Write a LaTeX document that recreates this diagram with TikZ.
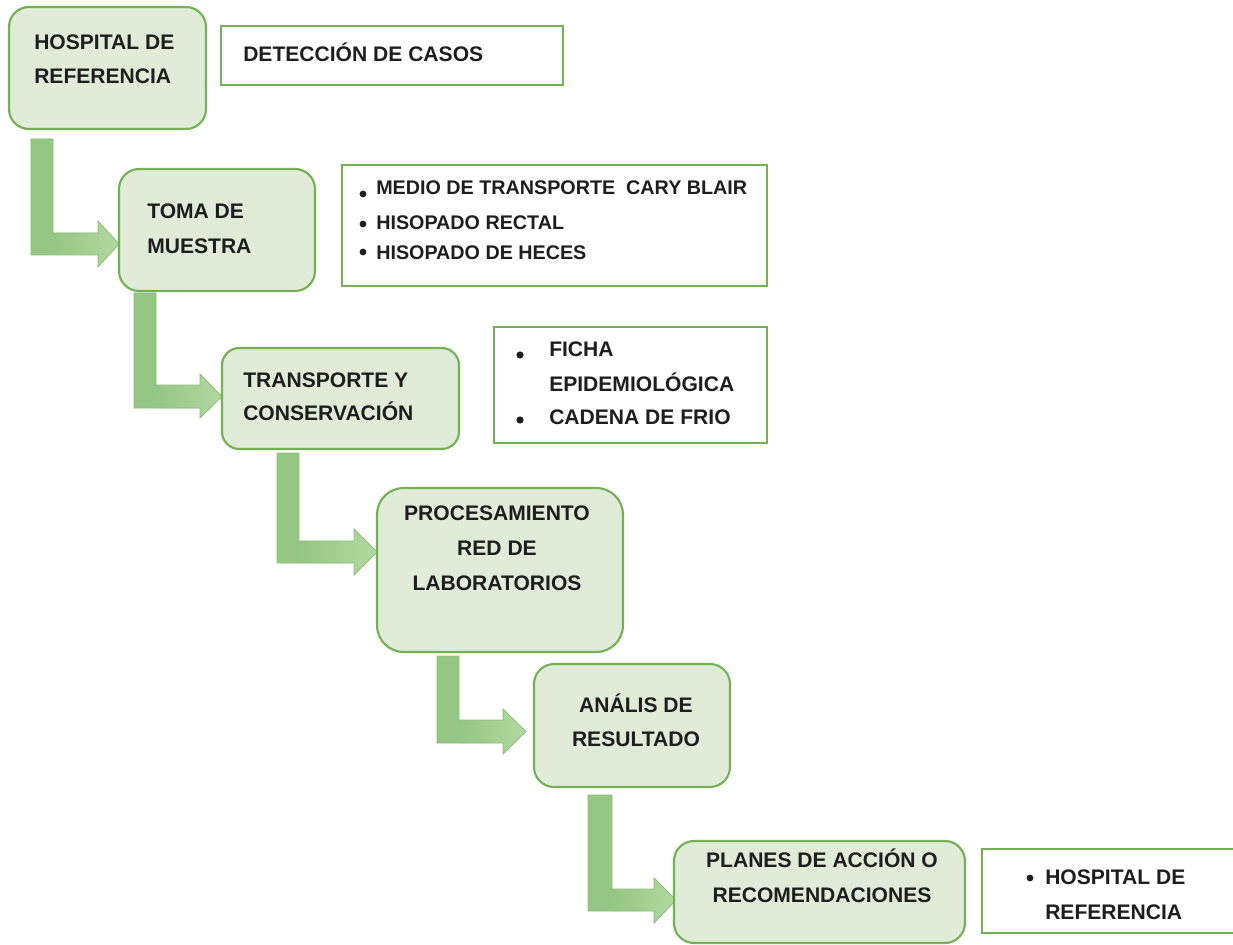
\documentclass[tikz,border=0pt]{standalone}
\usepackage{fontspec}
\setmainfont{Liberation Sans}
\definecolor{stagefill}{HTML}{E0ECD7}
\definecolor{stageline}{HTML}{74B155}
\definecolor{arrowfill}{HTML}{96C683}
\definecolor{arrowlight}{HTML}{B3D8A3}
\definecolor{arrowline}{HTML}{8BC076}
\definecolor{textc}{HTML}{1E1E1E}
\tikzset{
  stage/.style={draw=stageline, fill=stagefill, line width=1.6pt, inner sep=0pt},
  infobox/.style={draw=stageline, fill=white, line width=1.6pt, inner sep=0pt},
  lbl/.style={font=\fontsize{15.8}{18}\selectfont\bfseries, text=textc, inner sep=0pt},
  lbls/.style={font=\fontsize{14.8}{18}\selectfont\bfseries, text=textc, inner sep=0pt},
  dotb/.style={fill=textc},
  bendarrow/.style={draw=arrowline, line width=0.6pt, line join=miter}
}
\newcommand\bendarr[9]{%
 % #1 xl #2 xr #3 ytop #4 bar top #5 bar bottom #6 head base x #7 head top #8 tip x #9 head bottom
 \fill[arrowfill] (#1,#3) -- (#2,#3) -- (#2,#4) -- (#6,#4) -- (#6,#7) -- (#8,{(#4+#5)/2}) -- (#6,#9) -- (#6,#5) -- (#1,#5) -- cycle;
 \shade[left color=arrowfill, right color=arrowlight] (#2,#4) -- (#6,#4) -- (#6,#7) -- (#8,{(#4+#5)/2}) -- (#6,#9) -- (#6,#5) -- (#2,#5) -- cycle;
 \draw[bendarrow] (#1,#3) -- (#2,#3) -- (#2,#4) -- (#6,#4) -- (#6,#7) -- (#8,{(#4+#5)/2}) -- (#6,#9) -- (#6,#5) -- (#1,#5) -- cycle;
}
\begin{document}
\begin{tikzpicture}[x=0.75pt, y=-0.75pt]
\useasboundingbox (0,0) rectangle (1233,945);
\clip (0,0) rectangle (1233,945);
\fill[white] (0,0) rectangle (1233,945);

% arrows
\bendarr{31}{53}{139}{233}{255}{98}{221}{119}{267}
\bendarr{134}{156}{293}{385}{408}{200}{374}{222}{418}
\bendarr{277}{299}{453}{541}{563}{354}{529}{377}{575}
\bendarr{437}{459}{656}{720}{743}{503}{709}{526}{754}
\bendarr{588}{612}{795}{889}{911}{654}{878}{676}{923}

% stage boxes
\node[stage, minimum width=197*0.75pt, minimum height=122*0.75pt, rounded corners=15pt] (b1) at (107.5,68) {};
\node[stage, minimum width=196*0.75pt, minimum height=122*0.75pt, rounded corners=15pt] (b2) at (217,230) {};
\node[stage, minimum width=237*0.75pt, minimum height=101*0.75pt, rounded corners=13pt] (b3) at (340.5,398.5) {};
\node[stage, minimum width=246*0.75pt, minimum height=164*0.75pt, rounded corners=20pt] (b4) at (500,570) {};
\node[stage, minimum width=196*0.75pt, minimum height=123*0.75pt, rounded corners=15pt] (b5) at (632,725.5) {};
\node[stage, minimum width=291*0.75pt, minimum height=102*0.75pt, rounded corners=15pt] (b6) at (819.5,892) {};

% info boxes
\node[infobox, minimum width=342*0.75pt, minimum height=59*0.75pt] (i1) at (392,55.5) {};
\node[infobox, minimum width=425*0.75pt, minimum height=121*0.75pt] (i2) at (554.5,225.5) {};
\node[infobox, minimum width=273*0.75pt, minimum height=116*0.75pt] (i3) at (630.5,385) {};
\node[infobox, minimum width=258*0.75pt, minimum height=84*0.75pt] (i6) at (1111,891) {};

% texts
\node[lbl, anchor=base west] (t1a) at (34,49.5) {HOSPITAL DE};
\node[lbl, anchor=base west] (t1b) at (34,83.5) {REFERENCIA};
\node[lbl, anchor=base west] (td) at (243,61.5) {DETECCIÓN DE CASOS};

\node[lbl, anchor=base west] (t2a) at (147,218.5) {TOMA DE};
\node[lbl, anchor=base west] (t2b) at (147,253.5) {MUESTRA};
\node[lbls, anchor=base west] (u2a) at (376,195) {MEDIO DE TRANSPORTE\ \ CARY BLAIR};
\node[lbls, anchor=base west] (u2b) at (376,230) {HISOPADO RECTAL};
\node[lbls, anchor=base west] (u2c) at (376,260) {HISOPADO DE HECES};
\fill[dotb] (363,194) circle (3.4);
\fill[dotb] (363,224) circle (3.4);
\fill[dotb] (363,252) circle (3.4);

\node[lbl, anchor=base west] (t3a) at (243,387.5) {TRANSPORTE Y};
\node[lbl, anchor=base west] (t3b) at (243,420.5) {CONSERVACIÓN};
\node[lbl, anchor=base west] (u3a) at (549,356.5) {FICHA};
\node[lbl, anchor=base west] (u3b) at (549,391.5) {EPIDEMIOLÓGICA};
\node[lbl, anchor=base west] (u3c) at (549,424) {CADENA DE FRIO};
\fill[dotb] (520,355) circle (3.6);
\fill[dotb] (520,420) circle (3.6);

\node[lbl, anchor=base] (t4a) at (497,520.5) {PROCESAMIENTO};
\node[lbl, anchor=base] (t4b) at (497,555.5) {RED DE};
\node[lbl, anchor=base] (t4c) at (497,590.5) {LABORATORIOS};

\node[lbl, anchor=base] (t5a) at (636,712.5) {ANÁLIS DE};
\node[lbl, anchor=base] (t5b) at (636,746.5) {RESULTADO};

\node[lbl, anchor=base] (t6a) at (822,867.5) {PLANES DE ACCIÓN O};
\node[lbl, anchor=base] (t6b) at (822,902.5) {RECOMENDACIONES};
\node[lbl, anchor=base west] (u6a) at (1045,884.5) {HOSPITAL DE};
\node[lbl, anchor=base west] (u6b) at (1045,919.5) {REFERENCIA};
\fill[dotb] (1030,878) circle (3.4);
\end{tikzpicture}
\end{document}
